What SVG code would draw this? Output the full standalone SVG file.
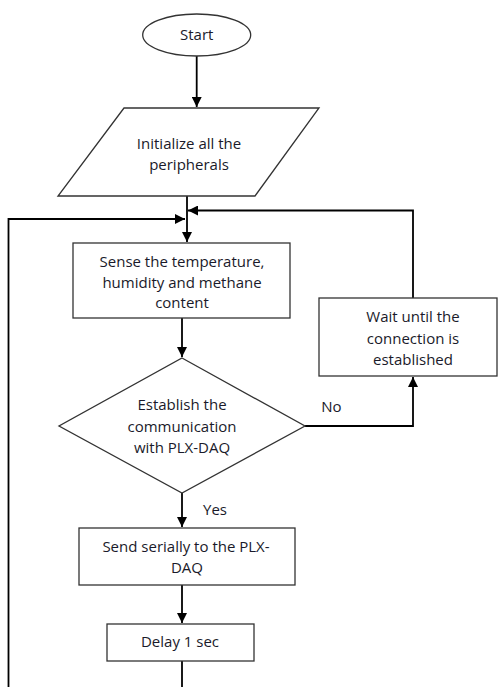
<svg xmlns="http://www.w3.org/2000/svg" width="499" height="687" viewBox="0 0 499 687">
<defs>
<marker id="ah" viewBox="0 0 10 10" refX="10" refY="5" markerWidth="10" markerHeight="10" markerUnits="userSpaceOnUse" orient="auto">
<path d="M0,0 L10,5 L0,10 Z" fill="#000"/>
</marker>
</defs>
<style>
.sh{fill:#fff;stroke:#333;stroke-width:1.3}
.t{font-family:"Open Sans","Liberation Sans",sans-serif;font-size:15px;fill:#1a1a2a;text-anchor:middle}
.c{fill:none;stroke:#000;stroke-width:1.8}
</style>
<rect width="499" height="687" fill="#fff"/>
<g id="connectors">
<path class="c" d="M196.7,56 V107" marker-end="url(#ah)"/>
<path class="c" d="M187,196 V242" marker-end="url(#ah)"/>
<path class="c" d="M413,298 V210.5 H188" marker-end="url(#ah)"/>
<path class="c" d="M8.5,687 V219 H185" marker-end="url(#ah)"/>
<path class="c" d="M182,318 V357" marker-end="url(#ah)"/>
<path class="c" d="M305,426 H413 V377" marker-end="url(#ah)"/>
<path class="c" d="M182,493 V527" marker-end="url(#ah)"/>
<path class="c" d="M182,585 V623" marker-end="url(#ah)"/>
<path class="c" d="M182,661 V687"/>
<text class="t" x="331.5" y="412">No</text>
<text class="t" x="215" y="515">Yes</text>
</g>
<g id="start">
<ellipse class="sh" cx="196.7" cy="35" rx="54" ry="21"/>
<text class="t" x="196.7" y="40">Start</text>
</g>
<g id="init">
<polygon class="sh" points="124,108 319,108 255,196 58,196"/>
<text class="t" x="189" y="149">Initialize all the</text>
<text class="t" x="189" y="170">peripherals</text>
</g>
<g id="sense">
<rect class="sh" x="73" y="243" width="217" height="75"/>
<text class="t" x="182" y="267">Sense the temperature,</text>
<text class="t" x="182" y="288">humidity and methane</text>
<text class="t" x="182" y="308">content</text>
</g>
<g id="decision">
<polygon class="sh" points="182,358 305,426 182,493 59,426"/>
<text class="t" x="182" y="410">Establish the</text>
<text class="t" x="182" y="432">communication</text>
<text class="t" x="182" y="453">with PLX-DAQ</text>
</g>
<g id="wait">
<rect class="sh" x="319" y="298" width="178" height="78"/>
<text class="t" x="413" y="322">Wait until the</text>
<text class="t" x="413" y="344">connection is</text>
<text class="t" x="413" y="365">established</text>
</g>
<g id="send">
<rect class="sh" x="79" y="528" width="216" height="57"/>
<text class="t" x="186" y="552">Send serially to the PLX-</text>
<text class="t" x="187" y="573">DAQ</text>
</g>
<g id="delay">
<rect class="sh" x="107" y="624" width="147" height="37"/>
<text class="t" x="180" y="647">Delay 1 sec</text>
</g>
</svg>
